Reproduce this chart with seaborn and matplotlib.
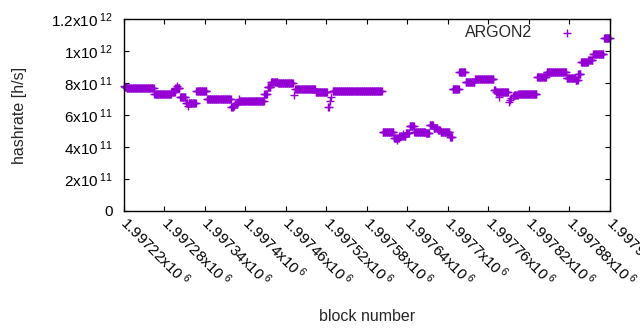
import numpy as np
import pandas as pd
import matplotlib
matplotlib.use('Agg')
import matplotlib.pyplot as plt
import seaborn as sns

sns.set_style('ticks')
plt.rcParams['font.family'] = ['Liberation Sans', 'DejaVu Sans']
plt.rcParams['mathtext.fontset'] = 'custom'
plt.rcParams['mathtext.rm'] = 'Liberation Sans'
plt.rcParams['mathtext.default'] = 'regular'

# 区段：起始区块, 结束区块, 哈希率 (x10^11 h/s)
seg_start = [1997220, 1997221, 1997224, 1997265, 1997290, 1997296, 1997298, 1997299,
             1997303, 1997312, 1997315, 1997316, 1997327, 1997343, 1997379, 1997382,
             1997384, 1997389, 1997390, 1997391, 1997428, 1997433, 1997438, 1997448,
             1997472, 1997474, 1997504, 1997522, 1997525, 1997527, 1997529, 1997603,
             1997620, 1997624, 1997625, 1997628, 1997633, 1997634, 1997638, 1997643,
             1997650, 1997667, 1997673, 1997679, 1997685, 1997689, 1997703, 1997707,
             1997717, 1997726, 1997740, 1997768, 1997771, 1997775, 1997776, 1997790,
             1997792, 1997794, 1997796, 1997798, 1997804, 1997832, 1997846, 1997876,
             1997889, 1997893, 1997897, 1997908, 1997915, 1997931]
seg_end = [1997220, 1997223, 1997264, 1997289, 1997295, 1997297, 1997298, 1997302,
           1997311, 1997314, 1997315, 1997326, 1997342, 1997378, 1997381, 1997383,
           1997388, 1997389, 1997390, 1997427, 1997432, 1997437, 1997447, 1997470,
           1997472, 1997503, 1997521, 1997523, 1997525, 1997527, 1997602, 1997619,
           1997623, 1997624, 1997627, 1997632, 1997633, 1997637, 1997642, 1997649,
           1997666, 1997672, 1997678, 1997684, 1997688, 1997702, 1997706, 1997716,
           1997725, 1997739, 1997767, 1997770, 1997774, 1997775, 1997789, 1997790,
           1997792, 1997794, 1997796, 1997803, 1997831, 1997845, 1997875, 1997888,
           1997892, 1997896, 1997907, 1997914, 1997930, 1997940]
seg_rate = [7.80, 7.74, 7.67, 7.29, 7.42, 7.70, 7.80, 7.70,
            7.15, 6.73, 6.58, 6.73, 7.53, 6.98, 6.48, 6.58,
            6.70, 6.80, 6.98, 6.87, 7.30, 7.73, 8.08, 7.98,
            7.22, 7.65, 7.42, 6.47, 6.90, 7.10, 7.47, 4.96,
            4.58, 4.45, 4.56, 4.67, 4.84, 4.67, 4.86, 5.30,
            4.96, 4.88, 5.38, 5.20, 5.05, 4.93, 4.60, 7.63,
            8.67, 8.08, 8.22, 7.56, 7.42, 7.15, 7.42, 6.82,
            6.92, 7.05, 7.16, 7.24, 7.30, 8.36, 8.70, 8.33,
            8.18, 8.55, 9.30, 9.42, 9.80, 10.80]

xtick_blocks = [1997220, 1997280, 1997340, 1997400, 1997460, 1997520, 1997580,
                1997640, 1997700, 1997760, 1997820, 1997880, 1997940]
xtick_labels = ['1.99722x10$\\,^{6}$', '1.99728x10$\\,^{6}$', '1.99734x10$\\,^{6}$', '1.9974x10$\\,^{6}$',
                '1.99746x10$\\,^{6}$', '1.99752x10$\\,^{6}$', '1.99758x10$\\,^{6}$', '1.99764x10$\\,^{6}$',
                '1.9977x10$\\,^{6}$', '1.99776x10$\\,^{6}$', '1.99782x10$\\,^{6}$', '1.99788x10$\\,^{6}$',
                '1.99794x10$\\,^{6}$']
ytick_vals = [0, 2e11, 4e11, 6e11, 8e11, 1e12, 1.2e12]
ytick_labels = ['0', '2x10$\\,^{11}$', '4x10$\\,^{11}$', '6x10$\\,^{11}$', '8x10$\\,^{11}$',
                '1x10$\\,^{12}$', '1.2x10$\\,^{12}$']

rows = []
for s, e, r in zip(seg_start, seg_end, seg_rate):
    for b in range(s, e + 1):
        rows.append((b, r * 1e11))
df = pd.DataFrame(rows, columns=['block', 'hashrate'])

fig = plt.figure(figsize=(6.4, 3.3), dpi=100)
ax = fig.add_axes([124 / 640, 119 / 330, 486 / 640, 192 / 330])

sns.scatterplot(data=df, x='block', y='hashrate', marker='+', s=30, linewidth=1.0,
                color='#9400d3', label='ARGON2', ax=ax, clip_on=False)

ax.set_xlim(1997220, 1997940)
ax.set_ylim(0, 1.2e12)
ax.set_xticks(xtick_blocks)
ax.set_xticklabels(xtick_labels)
ax.set_yticks(ytick_vals)
ax.set_yticklabels(ytick_labels)
ax.tick_params(direction='in', length=3.5, width=0.8, top=True, right=True,
               labelsize=11, colors='black')
ax.tick_params(axis='y', pad=8)
ax.tick_params(axis='x', pad=6)
plt.setp(ax.get_xticklabels(), rotation=-45, ha='left', va='center', rotation_mode='anchor')
for sp in ax.spines.values():
    sp.set_visible(True)
    sp.set_linewidth(1.0)
    sp.set_color('black')

ax.set_xlabel('block number', fontsize=11.5)
ax.set_ylabel('hashrate [h/s]', fontsize=11.5)
ax.xaxis.set_label_coords(0.5, -0.51)
ax.yaxis.set_label_coords(-0.2, 0.5)

ax.legend(loc='upper right', bbox_to_anchor=(0.958, 1.0), borderaxespad=0,
          frameon=False, markerfirst=False, fontsize=11.5, handletextpad=1.2,
          scatterpoints=1)

fig.savefig('out.png', dpi=100)
